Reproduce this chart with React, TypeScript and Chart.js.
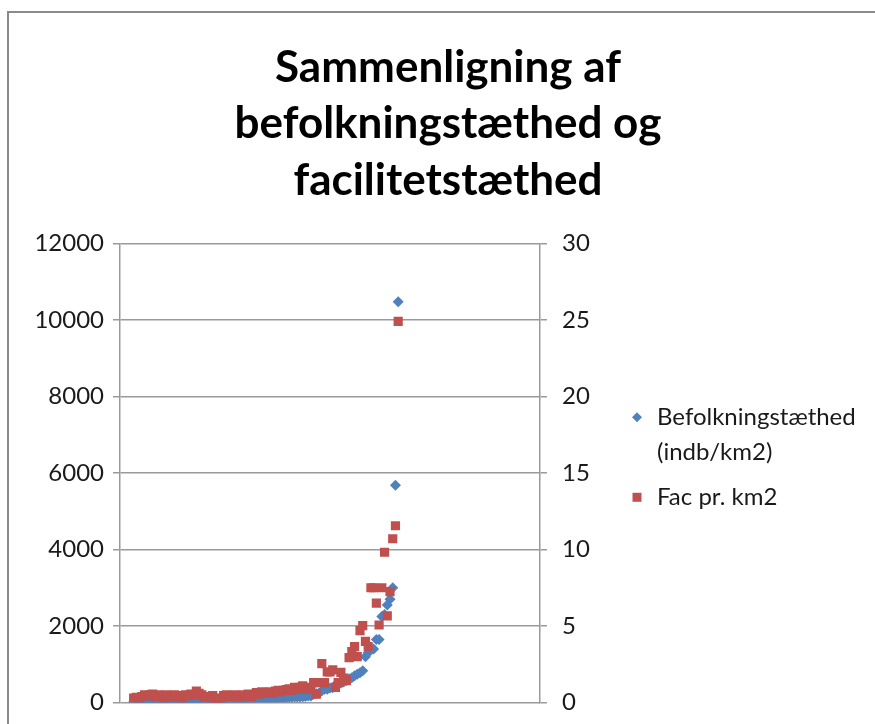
import React, { useEffect, useRef } from 'react';
import { Chart, registerables } from 'chart.js';

Chart.register(...registerables);

const TITLE_LINES = ['Sammenligning af', 'befolkningstæthed og', 'facilitetstæthed'];
const SERIES_LABELS = ['Befolkningstæthed (indb/km2)', 'Fac pr. km2'];
const LEGEND_LINES_1 = ['Befolkningstæthed', '(indb/km2)'];
const LEGEND_LINES_2 = ['Fac pr. km2'];

const LEFT_MAX = 12000;
const LEFT_STEP = 2000;
const RIGHT_MAX = 30;
const RIGHT_STEP = 5;

// Befolkningstæthed (indb/km2), sorted ascending, one per kommune
const befolkning = [
  18, 29, 33, 39, 40, 41, 44, 45, 46, 49,
  49, 50, 52, 52, 53, 55, 58, 59, 60, 60,
  61, 64, 65, 66, 66, 67, 68, 70, 71, 71,
  72, 72, 73, 75, 80, 80, 80, 83, 88, 89,
  89, 92, 93, 95, 96, 100, 104, 110, 110, 113,
  113, 115, 120, 120, 122, 128, 130, 137, 140,
  145, 145, 147, 154, 160,
  175, 175, 215, 230, 250,
  310, 350, 350, 380, 390,
  460, 490, 510, 540, 580,
  620, 650, 700, 740, 780,
  830, 1200, 1300, 1400, 1400,
  1650, 1650, 2250, 2300, 2550,
  2700, 3000, 5680, 10470,
];

// Fac pr. km2 (right axis)
const facilitet = [
  0.3, 0.35, 0.3, 0.4, 0.5, 0.45, 0.5, 0.55, 0.4, 0.5,
  0.45, 0.3, 0.5, 0.4, 0.35, 0.5, 0.4, 0.45, 0.3, 0.5,
  0.45, 0.55, 0.5, 0.75, 0.6, 0.5, 0.35, 0.4, 0.3, 0.45,
  0.2, 0.1, 0.3, 0.45, 0.5, 0.4, 0.45, 0.5, 0.4, 0.35,
  0.5, 0.45, 0.55, 0.4, 0.5, 0.65, 0.55, 0.7, 0.6, 0.65,
  0.7, 0.6, 0.75, 0.8, 0.7, 0.8, 0.85, 0.9, 0.8, 1.0,
  0.9, 1.0, 1.1, 0.9, 0.9, 1.0, 1.3, 0.55, 1.3, 2.55,
  1.3, 2.0, 2.0, 2.14, 1.0, 1.3, 1.98, 1.6, 1.44, 2.94,
  3.33, 3.66, 3.0, 4.7, 5.03, 4.0, 3.66, 7.5, 7.5, 6.5,
  5.07, 7.5, 9.82, 5.67, 7.25, 10.7, 11.55, 24.9,
];

const kommuneIndex = befolkning.map((_, i) => i + 1);

const BLUE = '#4F81BD';
const RED = '#C0504D';
const GRID = '#9a9a9a';
const TEXT = '#1a1a1a';
const FONT = 'Lato';

const CANVAS_W = 896;
const CANVAS_H = 732;

const sideLegend = {
  id: 'sideLegend',
  afterDraw(chart: any) {
    const { ctx, chartArea } = chart;
    const mx = chartArea.right + 97;
    const tx = chartArea.right + 117;
    const y1 = chartArea.top + 174;
    const lineGap = 35;
    const y2 = chartArea.top + 254;
    ctx.save();
    ctx.fillStyle = BLUE;
    ctx.beginPath();
    ctx.moveTo(mx, y1 - 5);
    ctx.lineTo(mx + 5, y1);
    ctx.lineTo(mx, y1 + 5);
    ctx.lineTo(mx - 5, y1);
    ctx.closePath();
    ctx.fill();
    ctx.fillStyle = RED;
    ctx.fillRect(mx - 4.5, y2 - 4.5, 9, 9);
    ctx.fillStyle = TEXT;
    ctx.font = `24px ${FONT}`;
    ctx.textBaseline = 'middle';
    ctx.textAlign = 'left';
    LEGEND_LINES_1.forEach((l, i) => ctx.fillText(l, tx, y1 + i * lineGap));
    LEGEND_LINES_2.forEach((l, i) => ctx.fillText(l, tx, y2 + i * lineGap));
    ctx.restore();
  },
};

const plain = (v: any) => String(v);

export default function App() {
  const ref = useRef<HTMLCanvasElement>(null);

  useEffect(() => {
    if (!ref.current) return;
    const chart = new Chart(ref.current, {
      type: 'scatter',
      data: {
        datasets: [
          {
            label: SERIES_LABELS[1],
            data: kommuneIndex.map((x, i) => ({ x, y: facilitet[i] })),
            yAxisID: 'y2',
            pointStyle: 'rect',
            pointRadius: 6.5,
            backgroundColor: RED,
            borderColor: RED,
            borderWidth: 0,
          },
          {
            label: SERIES_LABELS[0],
            data: kommuneIndex.map((x, i) => ({ x, y: befolkning[i] })),
            yAxisID: 'y',
            pointStyle: 'rectRot',
            pointRadius: 5.5,
            backgroundColor: BLUE,
            borderColor: BLUE,
            borderWidth: 0,
          },
        ],
      },
      options: {
        responsive: false,
        animation: false,
        devicePixelRatio: 1,
        layout: { padding: { top: 0, bottom: 0, left: 0, right: 0 } },
        plugins: {
          legend: { display: false },
          tooltip: { enabled: false },
          title: {
            display: true,
            text: TITLE_LINES,
            color: '#000',
            font: { family: FONT, size: 44, weight: 'bold', lineHeight: 1.29 },
            padding: { top: 39, bottom: 34 },
          },
        },
        scales: {
          x: {
            type: 'linear',
            display: false,
            min: -4,
            max: 150,
          },
          y: {
            position: 'left',
            min: 0,
            max: LEFT_MAX,
            ticks: {
              stepSize: LEFT_STEP,
              padding: 9,
              color: TEXT,
              font: { family: FONT, size: 24 },
              callback: plain,
            },
            grid: { color: GRID, lineWidth: 1.5, tickLength: 7, tickColor: GRID },
            border: { color: GRID, width: 1.5 },
            afterFit: (s: any) => { s.width = 120; },
          },
          y2: {
            position: 'right',
            min: 0,
            max: RIGHT_MAX,
            ticks: {
              stepSize: RIGHT_STEP,
              padding: 15,
              color: TEXT,
              font: { family: FONT, size: 24 },
              callback: plain,
            },
            grid: { drawOnChartArea: false, color: GRID, lineWidth: 1.5, tickLength: 7, tickColor: GRID },
            border: { color: GRID, width: 1.5 },
            afterFit: (s: any) => { s.width = 356; },
          },
        },
      },
      plugins: [sideLegend],
    });
    return () => chart.destroy();
  }, []);

  return (
    <div style={{ position: 'fixed', left: 0, top: 0, width: 875, height: 724, overflow: 'hidden', background: '#fff' }}>
      <canvas
        ref={ref}
        width={CANVAS_W}
        height={CANVAS_H}
        style={{ position: 'absolute', left: 0, top: 0, width: CANVAS_W, height: CANVAS_H }}
      />
      <div
        style={{
          position: 'absolute',
          left: 7,
          top: 11,
          width: 950,
          height: 800,
          border: '2px solid #8a8a8a',
          pointerEvents: 'none',
        }}
      />
    </div>
  );
}
